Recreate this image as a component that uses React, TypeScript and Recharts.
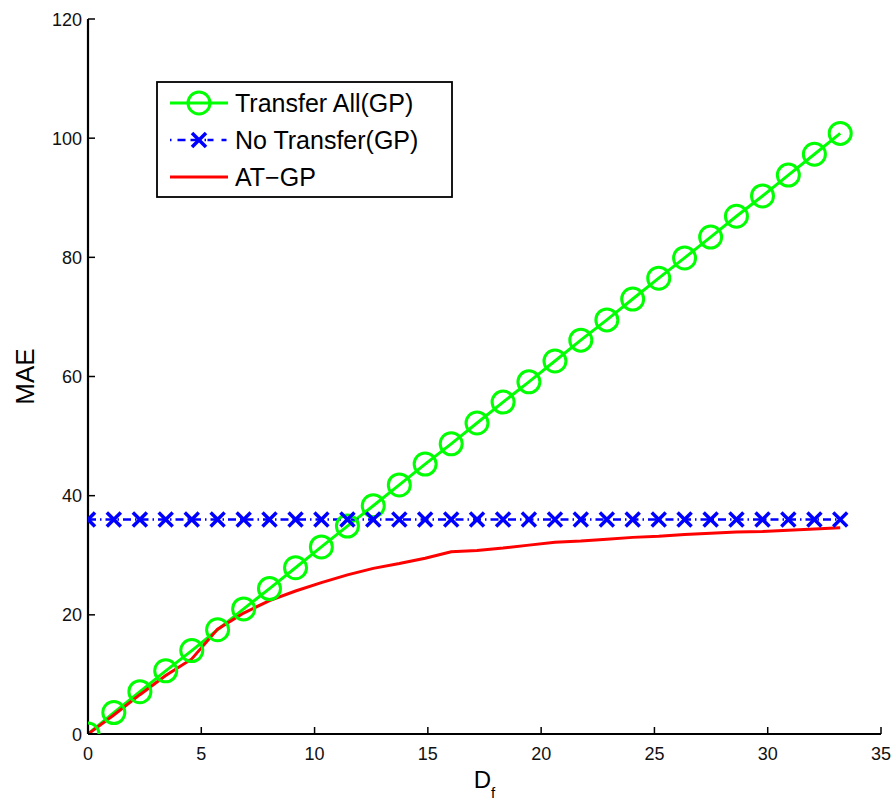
import React from 'react';
import { LineChart, Line, XAxis, YAxis, Customized } from 'recharts';

const dfValues = [0, 1.14, 2.29, 3.43, 4.58, 5.72, 6.87, 8.01, 9.16, 10.3, 11.45, 12.59, 13.74, 14.88, 16.03, 17.17, 18.32, 19.46, 20.61, 21.75, 22.9, 24.04, 25.19, 26.33, 27.48, 28.62, 29.77, 30.91, 32.06, 33.2];
const transferAll = [0, 3.6, 7.1, 10.6, 14.0, 17.5, 21.0, 24.4, 27.9, 31.4, 34.9, 38.3, 41.8, 45.3, 48.7, 52.2, 55.7, 59.1, 62.6, 66.1, 69.5, 73.0, 76.5, 79.9, 83.4, 86.9, 90.3, 93.8, 97.3, 100.8];
const noTransfer = [36, 36, 36, 36, 36, 36, 36, 36, 36, 36, 36, 36, 36, 36, 36, 36, 36, 36, 36, 36, 36, 36, 36, 36, 36, 36, 36, 36, 36, 36];
const atGp = [0, 3.2, 6.6, 9.8, 12.6, 17.6, 20.3, 22.4, 24.0, 25.4, 26.7, 27.8, 28.6, 29.5, 30.6, 30.8, 31.2, 31.7, 32.2, 32.4, 32.7, 33.0, 33.2, 33.5, 33.7, 33.9, 34.0, 34.2, 34.4, 34.6];

const seriesNames = ['Transfer All(GP)', 'No Transfer(GP)', 'AT\u2212GP'];
const xTicks = [0, 5, 10, 15, 20, 25, 30, 35];
const yTicks = [0, 20, 40, 60, 80, 100, 120];

const data = dfValues.map((x, i) => ({ x, ta: transferAll[i], nt: noTransfer[i], at: atGp[i] }));

const FONT = '"Liberation Sans", Arial, Helvetica, sans-serif';
const GREEN = '#00ff00';
const BLUE = '#0000ff';
const RED = '#ff0000';
const TICK_LEN = 7;

const BottomTick = (props: any) => {
  const { x, y, payload } = props;
  return (
    <g>
      <line x1={x} y1={y} x2={x} y2={y - TICK_LEN} stroke="#000" strokeWidth={1.5} />
      <text x={x} y={y + 26} textAnchor="middle" fontSize={18} fontFamily={FONT} fill="#111">{payload.value}</text>
    </g>
  );
};
const TopTick = (props: any) => {
  const { x, y } = props;
  return <line x1={x} y1={y} x2={x} y2={y + TICK_LEN} stroke="#000" strokeWidth={1.5} />;
};
const LeftTick = (props: any) => {
  const { x, y, payload } = props;
  return (
    <g>
      <line x1={x} y1={y} x2={x + TICK_LEN} y2={y} stroke="#000" strokeWidth={1.5} />
      <text x={x - 6} y={y + 6.5} textAnchor="end" fontSize={18} fontFamily={FONT} fill="#111">{payload.value}</text>
    </g>
  );
};
const RightTick = (props: any) => {
  const { x, y } = props;
  return <line x1={x} y1={y} x2={x - TICK_LEN} y2={y} stroke="#000" strokeWidth={1.5} />;
};

const CircleDot = (props: any) => {
  const { cx, cy, index } = props;
  if (cx == null || cy == null) return <g key={index} />;
  return <circle key={index} cx={cx} cy={cy} r={11} fill="none" stroke={GREEN} strokeWidth={3} />;
};
const CrossDot = (props: any) => {
  const { cx, cy, index } = props;
  if (cx == null || cy == null) return <g key={index} />;
  const s = 7;
  return (
    <g key={index}>
      <line x1={cx - s} y1={cy - s} x2={cx + s} y2={cy + s} stroke={BLUE} strokeWidth={3.5} />
      <line x1={cx - s} y1={cy + s} x2={cx + s} y2={cy - s} stroke={BLUE} strokeWidth={3.5} />
    </g>
  );
};

const XLabel = (props: any) => {
  const vb = props.viewBox || {};
  const cx = vb.x + vb.width / 2;
  return (
    <text x={cx} y={vb.y + 54} textAnchor="middle" fontFamily={FONT} fill="#000" fontSize={24}>
      <tspan>D</tspan>
      <tspan fontSize={15} dy={10}>f</tspan>
    </text>
  );
};
const YLabel = (props: any) => {
  const vb = props.viewBox || {};
  const cy = vb.y + vb.height / 2;
  const x = 25;
  return (
    <text x={x} y={cy} transform={`rotate(-90, ${x}, ${cy})`} textAnchor="middle" dominantBaseline="central" fontFamily={FONT} fontSize={26} fill="#000">MAE</text>
  );
};

const LegendBox = () => {
  const bx = 157, by = 82, bw = 295, bh = 115;
  const rows = [103, 140, 177];
  const lx1 = 170, lx2 = 228, mx = 199, tx = 235;
  return (
    <g>
      <rect x={bx} y={by} width={bw} height={bh} fill="#fff" stroke="#000" strokeWidth={1.8} />
      <line x1={lx1} y1={rows[0]} x2={lx2} y2={rows[0]} stroke={GREEN} strokeWidth={3} />
      <circle cx={mx} cy={rows[0]} r={11} fill="none" stroke={GREEN} strokeWidth={3} />
      <line x1={lx1} y1={rows[1]} x2={lx2} y2={rows[1]} stroke={BLUE} strokeWidth={2.5} strokeDasharray="1.5 6 8 5 8 6 1.5" />
      <line x1={mx - 7} y1={rows[1] - 7} x2={mx + 7} y2={rows[1] + 7} stroke={BLUE} strokeWidth={3.5} />
      <line x1={mx - 7} y1={rows[1] + 7} x2={mx + 7} y2={rows[1] - 7} stroke={BLUE} strokeWidth={3.5} />
      <line x1={lx1} y1={rows[2]} x2={lx2} y2={rows[2]} stroke={RED} strokeWidth={3} />
      {seriesNames.map((n, i) => (
        <text key={n} x={tx} y={rows[i] + 9} fontFamily={FONT} fontSize={25} fill="#000">{n}</text>
      ))}
    </g>
  );
};

export default function App() {
  return (
    <div style={{ position: 'absolute', left: 0, top: 0, width: 893, height: 802, background: '#fff' }}>
      <LineChart width={893} height={802} data={data} margin={{ top: 19, right: 12, left: 0, bottom: 0 }}>
        <XAxis
          xAxisId="b"
          dataKey="x"
          type="number"
          domain={[0, 35]}
          ticks={xTicks}
          height={68}
          axisLine={{ stroke: '#000', strokeWidth: 2.2 }}
          tickLine={false}
          tickSize={0}
          tickMargin={0}
          tick={<BottomTick />}
          interval={0}
          allowDataOverflow
          label={<XLabel />}
        />
        <XAxis
          xAxisId="t"
          orientation="top"
          dataKey="x"
          type="number"
          domain={[0, 35]}
          ticks={xTicks}
          height={0}
          axisLine={{ stroke: '#000', strokeWidth: 2.2 }}
          tickLine={false}
          tickSize={0}
          tickMargin={0}
          tick={<TopTick />}
          interval={0}
          allowDataOverflow
        />
        <YAxis
          yAxisId="l"
          type="number"
          domain={[0, 120]}
          ticks={yTicks}
          width={88}
          axisLine={{ stroke: '#000', strokeWidth: 2.2 }}
          tickLine={false}
          tickSize={0}
          tickMargin={0}
          tick={<LeftTick />}
          interval={0}
          allowDataOverflow
          label={<YLabel />}
        />
        <YAxis
          yAxisId="r"
          orientation="right"
          type="number"
          domain={[0, 120]}
          ticks={yTicks}
          width={0}
          axisLine={{ stroke: '#000', strokeWidth: 2.2 }}
          tickLine={false}
          tickSize={0}
          tickMargin={0}
          tick={<RightTick />}
          interval={0}
          allowDataOverflow
        />
        <Line xAxisId="b" yAxisId="l" type="linear" dataKey="ta" name={seriesNames[0]} stroke={GREEN} strokeWidth={3} dot={<CircleDot />} isAnimationActive={false} />
        <Line xAxisId="b" yAxisId="l" type="linear" dataKey="nt" name={seriesNames[1]} stroke={BLUE} strokeWidth={2.5} strokeDasharray="8 4 1.5 4" dot={<CrossDot />} isAnimationActive={false} />
        <Line xAxisId="b" yAxisId="l" type="linear" dataKey="at" name={seriesNames[2]} stroke={RED} strokeWidth={3} dot={false} isAnimationActive={false} />
        <Customized component={LegendBox} />
      </LineChart>
    </div>
  );
}
